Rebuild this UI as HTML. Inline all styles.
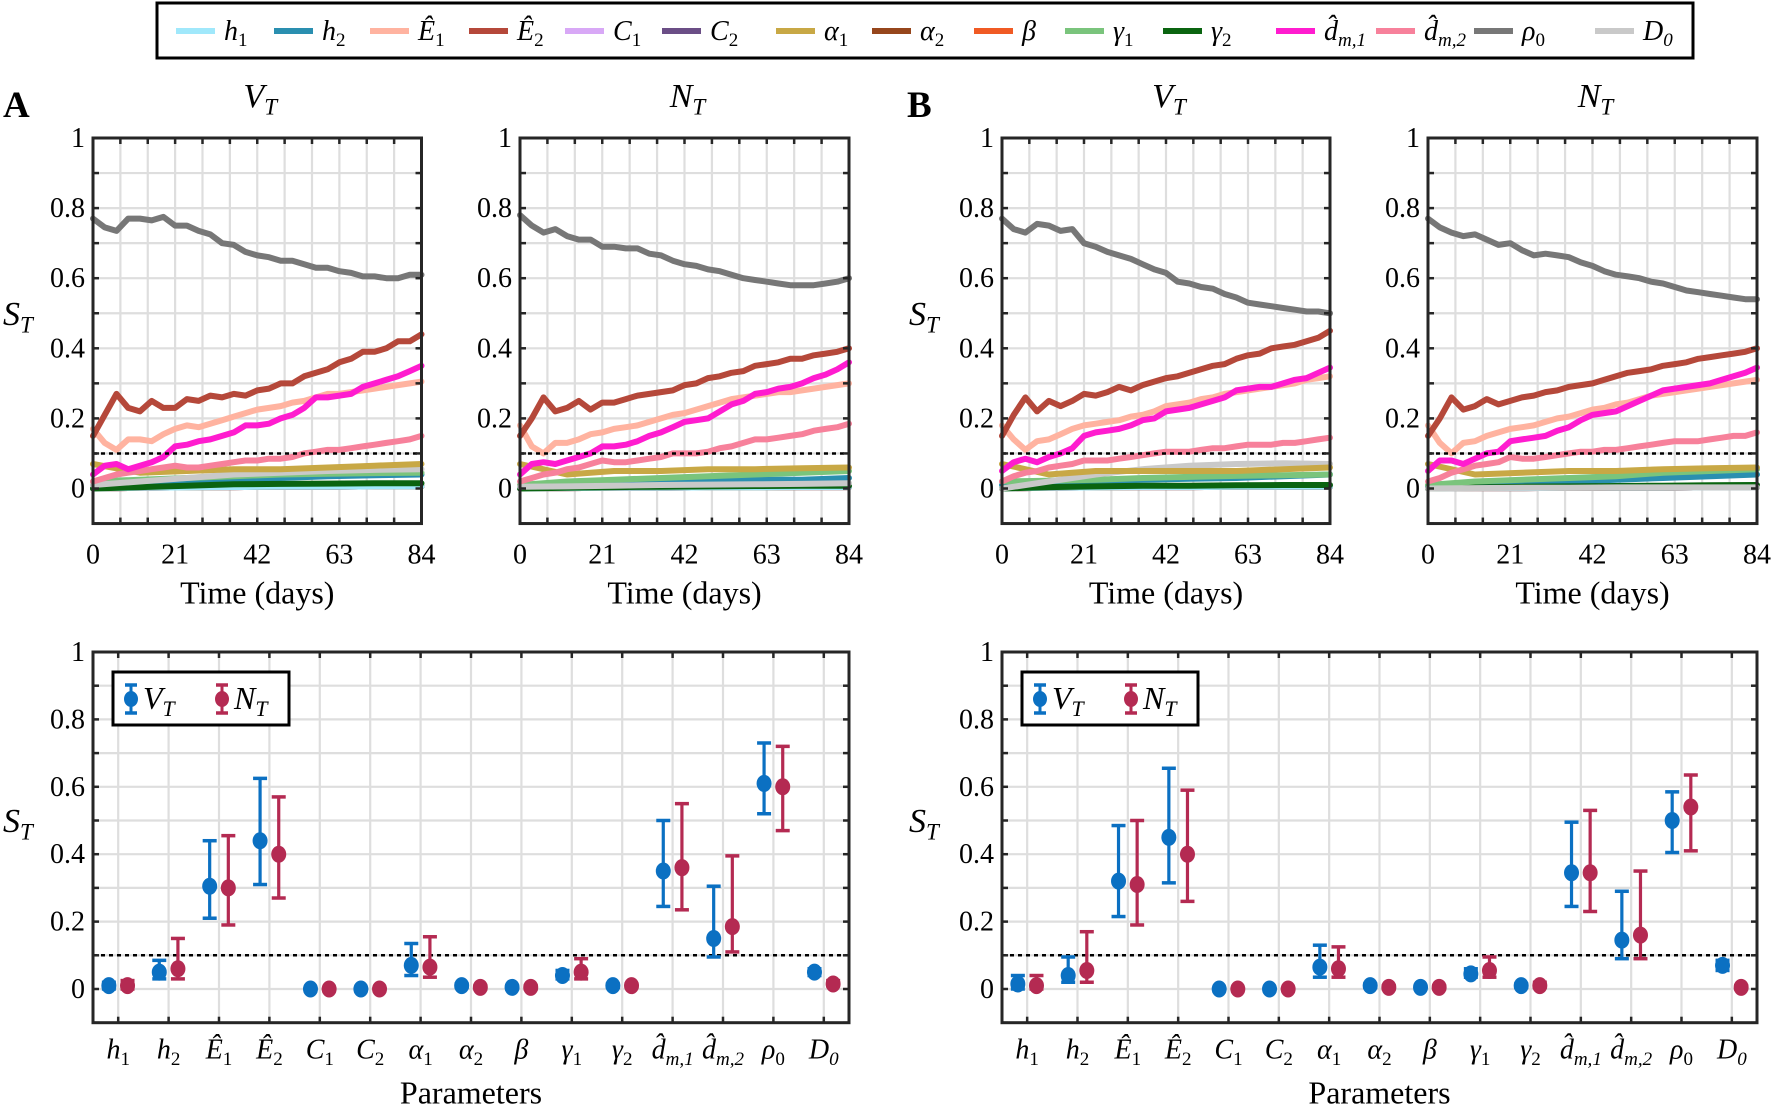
<!DOCTYPE html>
<html><head><meta charset="utf-8"><style>
html,body{margin:0;padding:0;background:#fff;}
svg{display:block;font-family:"Liberation Serif","DejaVu Serif",serif;}
svg text{font-family:"Liberation Serif","DejaVu Serif",serif;}
</style></head><body>
<svg id="fig" width="1771" height="1116" viewBox="0 0 1771 1116" xmlns="http://www.w3.org/2000/svg" font-family="Liberation Serif, DejaVu Serif, serif"></svg>
<script>
// ---------- data ----------
const days = [0,3,6,9,12,15,18,21,24,27,30,33,36,39,42,45,48,51,54,57,60,63,66,69,72,75,78,81,84];
const coarseDays = [0,12,24,36,48,60,72,84];
const xTicks = [0,21,42,63,84];
const yTicks = [0,0.2,0.4,0.6,0.8,1];
const yTickLabels = ["0","0.2","0.4","0.6","0.8","1"];

// Panel A, V_T
const aV_rho0 = [0.77,0.745,0.735,0.77,0.77,0.765,0.775,0.75,0.75,0.735,0.725,0.70,0.695,0.675,0.665,0.66,0.65,0.65,0.64,0.63,0.63,0.62,0.615,0.605,0.605,0.60,0.60,0.61,0.61];
const aV_E2 = [0.15,0.21,0.27,0.23,0.22,0.25,0.23,0.23,0.255,0.25,0.265,0.26,0.27,0.265,0.28,0.285,0.30,0.30,0.32,0.33,0.34,0.36,0.37,0.39,0.39,0.40,0.42,0.42,0.44];
const aV_E1 = [0.17,0.13,0.11,0.14,0.14,0.135,0.155,0.17,0.18,0.175,0.185,0.195,0.205,0.215,0.225,0.23,0.235,0.245,0.25,0.26,0.27,0.27,0.275,0.28,0.285,0.29,0.295,0.30,0.305];
const aV_dm1 = [0.04,0.065,0.07,0.055,0.065,0.075,0.09,0.12,0.125,0.135,0.14,0.15,0.16,0.18,0.18,0.185,0.20,0.21,0.23,0.26,0.26,0.265,0.27,0.29,0.30,0.31,0.32,0.335,0.35];
const aV_dm2 = [0.02,0.03,0.04,0.045,0.05,0.055,0.06,0.065,0.06,0.06,0.065,0.07,0.075,0.08,0.08,0.085,0.085,0.09,0.10,0.105,0.11,0.11,0.115,0.12,0.125,0.13,0.135,0.14,0.15];
const aV_a1 = [0.07,0.045,0.05,0.055,0.055,0.06,0.065,0.07];
const aV_g1 = [0.02,0.025,0.03,0.035,0.04,0.042,0.044,0.045];
const aV_D0 = [0.01,0.02,0.03,0.04,0.045,0.05,0.053,0.055];
const aV_g2 = [0.0,0.004,0.008,0.012,0.013,0.014,0.015,0.015];
const aV_h2 = [0.01,0.015,0.02,0.025,0.03,0.035,0.038,0.04];
const aV_small = [0.0,0.002,0.003,0.004,0.005,0.005,0.006,0.006];

// Panel A, N_T
const aN_rho0 = [0.78,0.75,0.73,0.74,0.72,0.71,0.71,0.69,0.69,0.685,0.685,0.67,0.665,0.65,0.64,0.635,0.625,0.62,0.61,0.60,0.595,0.59,0.585,0.58,0.58,0.58,0.585,0.59,0.60];
const aN_E2 = [0.15,0.20,0.26,0.22,0.23,0.25,0.225,0.245,0.245,0.255,0.265,0.27,0.275,0.28,0.295,0.30,0.315,0.32,0.33,0.335,0.35,0.355,0.36,0.37,0.37,0.38,0.385,0.39,0.40];
const aN_E1 = [0.18,0.12,0.10,0.13,0.13,0.14,0.155,0.16,0.17,0.175,0.18,0.19,0.20,0.21,0.215,0.225,0.235,0.245,0.255,0.26,0.265,0.27,0.275,0.275,0.28,0.285,0.29,0.295,0.30];
const aN_dm1 = [0.04,0.07,0.075,0.07,0.08,0.09,0.10,0.12,0.12,0.125,0.135,0.15,0.16,0.175,0.19,0.195,0.20,0.22,0.24,0.25,0.27,0.275,0.285,0.29,0.30,0.315,0.325,0.34,0.36];
const aN_dm2 = [0.02,0.03,0.04,0.045,0.055,0.06,0.07,0.08,0.075,0.075,0.08,0.085,0.09,0.10,0.10,0.10,0.105,0.115,0.12,0.13,0.14,0.14,0.145,0.15,0.155,0.165,0.17,0.175,0.185];
const aN_a1 = [0.07,0.04,0.05,0.05,0.055,0.055,0.058,0.06];
const aN_g1 = [0.01,0.02,0.025,0.03,0.035,0.04,0.045,0.05];
const aN_D0 = [0.005,0.006,0.008,0.01,0.011,0.012,0.013,0.015];
const aN_g2 = [0.0,0.002,0.004,0.005,0.006,0.007,0.008,0.008];
const aN_h2 = [0.005,0.01,0.015,0.02,0.02,0.025,0.025,0.03];
const aN_small = [0.0,0.001,0.002,0.002,0.003,0.003,0.004,0.004];

// Panel B, V_T
const bV_rho0 = [0.77,0.74,0.73,0.755,0.75,0.735,0.74,0.70,0.69,0.675,0.665,0.655,0.64,0.625,0.615,0.59,0.585,0.575,0.57,0.555,0.545,0.53,0.525,0.52,0.515,0.51,0.505,0.505,0.50];
const bV_E2 = [0.15,0.21,0.26,0.22,0.25,0.235,0.25,0.27,0.265,0.275,0.29,0.28,0.295,0.305,0.315,0.32,0.33,0.34,0.35,0.355,0.37,0.38,0.385,0.40,0.405,0.41,0.42,0.43,0.45];
const bV_E1 = [0.18,0.14,0.11,0.135,0.14,0.155,0.17,0.18,0.185,0.19,0.195,0.205,0.21,0.22,0.235,0.24,0.245,0.255,0.26,0.27,0.275,0.28,0.285,0.29,0.295,0.30,0.31,0.315,0.32];
const bV_dm1 = [0.05,0.075,0.085,0.075,0.09,0.10,0.115,0.15,0.16,0.165,0.17,0.18,0.195,0.20,0.22,0.225,0.23,0.24,0.25,0.26,0.28,0.285,0.29,0.29,0.30,0.31,0.315,0.33,0.345];
const bV_dm2 = [0.02,0.035,0.045,0.05,0.06,0.065,0.07,0.08,0.08,0.08,0.085,0.09,0.095,0.10,0.105,0.105,0.105,0.11,0.115,0.115,0.12,0.125,0.125,0.125,0.13,0.13,0.135,0.14,0.145];
const bV_a1 = [0.07,0.04,0.05,0.05,0.05,0.05,0.055,0.06];
const bV_g1 = [0.02,0.022,0.025,0.03,0.033,0.036,0.038,0.04];
const bV_D0 = [0.0,0.02,0.04,0.055,0.065,0.07,0.072,0.07];
const bV_g2 = [0.0,0.004,0.006,0.008,0.008,0.009,0.01,0.01];
const bV_h2 = [0.01,0.015,0.02,0.025,0.028,0.03,0.035,0.04];
const bV_small = [0.0,0.002,0.003,0.004,0.004,0.005,0.005,0.005];

// Panel B, N_T
const bN_rho0 = [0.77,0.745,0.73,0.72,0.725,0.71,0.695,0.70,0.68,0.665,0.67,0.665,0.66,0.645,0.635,0.62,0.61,0.605,0.60,0.59,0.585,0.575,0.565,0.56,0.555,0.55,0.545,0.54,0.54];
const bN_E2 = [0.15,0.20,0.26,0.225,0.235,0.255,0.24,0.25,0.26,0.265,0.275,0.28,0.29,0.295,0.30,0.31,0.32,0.33,0.335,0.34,0.35,0.355,0.36,0.37,0.375,0.38,0.385,0.39,0.40];
const bN_E1 = [0.18,0.13,0.10,0.13,0.135,0.15,0.16,0.17,0.175,0.18,0.19,0.20,0.205,0.215,0.225,0.23,0.24,0.245,0.255,0.265,0.27,0.275,0.28,0.285,0.29,0.295,0.30,0.305,0.31];
const bN_dm1 = [0.05,0.08,0.08,0.07,0.085,0.10,0.105,0.135,0.14,0.145,0.15,0.165,0.175,0.195,0.21,0.215,0.22,0.235,0.25,0.265,0.28,0.285,0.29,0.295,0.30,0.31,0.32,0.33,0.345];
const bN_dm2 = [0.02,0.03,0.045,0.055,0.065,0.07,0.075,0.09,0.085,0.085,0.09,0.095,0.10,0.105,0.105,0.11,0.11,0.115,0.12,0.125,0.13,0.135,0.135,0.135,0.14,0.145,0.15,0.15,0.16];
const bN_a1 = [0.07,0.04,0.045,0.05,0.05,0.055,0.058,0.06];
const bN_g1 = [0.01,0.02,0.025,0.03,0.035,0.045,0.05,0.055];
const bN_D0 = [0.0,0.001,0.002,0.002,0.003,0.003,0.003,0.003];
const bN_g2 = [0.0,0.003,0.005,0.006,0.007,0.008,0.009,0.01];
const bN_h2 = [0.005,0.01,0.015,0.02,0.025,0.03,0.035,0.04];
const bN_small = [0.0,0.001,0.001,0.002,0.002,0.002,0.003,0.003];

// Error bar data
const paramLabels = ["h1","h2","E1","E2","C1","C2","a1","a2","beta","g1","g2","dm1","dm2","rho0","D0"];
const aV_mean = [0.01,0.05,0.305,0.44,0,0,0.07,0.01,0.005,0.04,0.01,0.35,0.15,0.61,0.05];
const aV_lo   = [0.0,0.03,0.21,0.31,0,0,0.04,0.005,0.0,0.03,0.005,0.245,0.095,0.52,0.04];
const aV_hi   = [0.02,0.085,0.44,0.625,0,0,0.135,0.015,0.01,0.055,0.015,0.50,0.305,0.73,0.06];
const aN_mean = [0.01,0.06,0.30,0.40,0,0,0.065,0.005,0.005,0.05,0.01,0.36,0.185,0.60,0.015];
const aN_lo   = [0.0,0.03,0.19,0.27,0,0,0.035,0.0,0.0,0.03,0.005,0.235,0.11,0.47,0.01];
const aN_hi   = [0.025,0.15,0.455,0.57,0,0,0.155,0.01,0.01,0.09,0.015,0.55,0.395,0.72,0.025];
const bV_mean = [0.015,0.04,0.32,0.45,0,0,0.065,0.01,0.005,0.045,0.01,0.345,0.145,0.50,0.07];
const bV_lo   = [0.0,0.02,0.215,0.315,0,0,0.035,0.005,0.0,0.035,0.005,0.245,0.09,0.405,0.055];
const bV_hi   = [0.04,0.095,0.485,0.655,0,0,0.13,0.015,0.01,0.06,0.015,0.495,0.29,0.585,0.085];
const bN_mean = [0.01,0.055,0.31,0.40,0,0,0.06,0.005,0.005,0.055,0.01,0.345,0.16,0.54,0.005];
const bN_lo   = [0.0,0.02,0.19,0.26,0,0,0.035,0.0,0.0,0.035,0.005,0.23,0.09,0.41,0.0];
const bN_hi   = [0.04,0.17,0.50,0.59,0,0,0.125,0.01,0.01,0.095,0.02,0.53,0.35,0.635,0.01];

// ---------- helpers ----------
const NS = "http://www.w3.org/2000/svg";
const svg = document.getElementById("fig");
const FF = "Liberation Serif, DejaVu Serif, serif";
function mk(tag, attrs, parent){
  const e = document.createElementNS(NS, tag);
  for (const k in attrs) e.setAttribute(k, attrs[k]);
  if (tag === "text") e.setAttribute("font-family", FF);
  (parent||svg).appendChild(e);
  return e;
}
const COL = {h1:"#a0e8fb",h2:"#2a8fb0",E1:"#ffb3a0",E2:"#b5483a",C1:"#d8a8f6",C2:"#6b4e86",a1:"#c8a845",a2:"#96461c",beta:"#f05a24",g1:"#7ac47c",g2:"#0a6410",dm1:"#ff1ccf",dm2:"#f7819b",rho0:"#777777",D0:"#c9c9c9"};
const VCOL = "#0b70c2", NCOL = "#b42a52", AX = "#262626", GRID = "#dedede";

function mathText(parent, x, y, base, sub, size, opts){
  opts = opts || {};
  const t = mk("text", {x:x, y:y, "font-size":size, "text-anchor":opts.anchor||"middle", fill:"#000"}, parent);
  const b = mk("tspan", {"font-style": opts.uprightBase ? "normal" : "italic"}, t);
  b.textContent = base;
  if (sub){
    const s = mk("tspan", {"font-size":size*0.68, dy:size*0.22, "font-style": opts.italicSub ? "italic" : "normal"}, t);
    s.textContent = sub;
  }
  return t;
}

// ---------- time series panel ----------
function timePanel(name, x0, x1, y0px, y1px, title, seriesList){
  const g = mk("g", {});
  
  
  const ymin=-0.1, ymax=1;
  const yPx = v => y0px + v*(y1px - y0px);
  const xPx = d => x0 + d/84*(x1-x0);
  const top = yPx(ymax), bot = yPx(ymin);
  for (let d=7; d<84; d+=7) mk("line",{x1:xPx(d),x2:xPx(d),y1:top,y2:bot,stroke:GRID,"stroke-width":2.2},g);
  for (let k=0; k<=10; k++){ const v=k/10; mk("line",{x1:x0,x2:x1,y1:yPx(v),y2:yPx(v),stroke:GRID,"stroke-width":2.2},g); }
  seriesList.forEach(s=>{
    const xs = s.x;
    let dstr = "";
    s.y.forEach((v,i)=>{ dstr += (i?"L":"M") + xPx(xs[i]).toFixed(1) + "," + yPx(v).toFixed(1); });
    const p = mk("path",{d:dstr,fill:"none",stroke:COL[s.key],"stroke-width":6,"stroke-linejoin":"round","stroke-linecap":"round"},g);
    
    
  });
  const th = mk("line",{x1:x0,x2:x1,y1:yPx(0.1),y2:yPx(0.1),stroke:"#000","stroke-width":2.5,"stroke-dasharray":"4,4"},g);
  
  
  for (let d=0; d<=84; d+=7){ mk("line",{x1:xPx(d),x2:xPx(d),y1:top,y2:top+6,stroke:AX,"stroke-width":2.5},g); mk("line",{x1:xPx(d),x2:xPx(d),y1:bot,y2:bot-6,stroke:AX,"stroke-width":2.5},g); }
  for (let k=-1; k<=10; k++){ const v=k/10; mk("line",{x1:x0,x2:x0+6,y1:yPx(v),y2:yPx(v),stroke:AX,"stroke-width":2.5},g); mk("line",{x1:x1,x2:x1-6,y1:yPx(v),y2:yPx(v),stroke:AX,"stroke-width":2.5},g); }
  mk("rect",{x:x0,y:top,width:x1-x0,height:bot-top,fill:"none",stroke:AX,"stroke-width":3},g);
  xTicks.forEach(d=>{ const t=mk("text",{x:xPx(d),y:bot+40,"font-size":28,"text-anchor":"middle"},g); t.textContent=d; });
  yTicks.forEach((v,i)=>{ const t=mk("text",{x:x0-8,y:yPx(v)+9,"font-size":28,"text-anchor":"end"},g); t.textContent=yTickLabels[i]; });
  const xl = mk("text",{x:(x0+x1)/2,y:bot+80,"font-size":32,"text-anchor":"middle"},g);
  xl.textContent="Time (days)";
  
  
  const tt = mathText(g,(x0+x1)/2+3,top-31,title[0],title[1],34,{italicSub:true});
  
  
  return g;
}
function seriesFor(p){
  return [
    {key:"C1",x:coarseDays,y:p.small},{key:"C2",x:coarseDays,y:p.small},{key:"beta",x:coarseDays,y:p.small},
    {key:"a2",x:coarseDays,y:p.small},{key:"h1",x:coarseDays,y:p.small},{key:"h2",x:coarseDays,y:p.h2},
    {key:"g2",x:coarseDays,y:p.g2},{key:"g1",x:coarseDays,y:p.g1},{key:"D0",x:coarseDays,y:p.D0},
    {key:"a1",x:coarseDays,y:p.a1},{key:"dm2",x:days,y:p.dm2},{key:"E1",x:days,y:p.E1},
    {key:"dm1",x:days,y:p.dm1},{key:"E2",x:days,y:p.E2},{key:"rho0",x:days,y:p.rho0}
  ];
}
const Y0 = 488.5, Y1 = 138;
timePanel("panel-a-vt",93,421.5,Y0,Y1,["V","T"],seriesFor({small:aV_small,h2:aV_h2,g2:aV_g2,g1:aV_g1,D0:aV_D0,a1:aV_a1,dm2:aV_dm2,E1:aV_E1,dm1:aV_dm1,E2:aV_E2,rho0:aV_rho0}));
timePanel("panel-a-nt",520,849,Y0,Y1,["N","T"],seriesFor({small:aN_small,h2:aN_h2,g2:aN_g2,g1:aN_g1,D0:aN_D0,a1:aN_a1,dm2:aN_dm2,E1:aN_E1,dm1:aN_dm1,E2:aN_E2,rho0:aN_rho0}));
timePanel("panel-b-vt",1002,1330,Y0,Y1,["V","T"],seriesFor({small:bV_small,h2:bV_h2,g2:bV_g2,g1:bV_g1,D0:bV_D0,a1:bV_a1,dm2:bV_dm2,E1:bV_E1,dm1:bV_dm1,E2:bV_E2,rho0:bV_rho0}));
timePanel("panel-b-nt",1428,1757,Y0,Y1,["N","T"],seriesFor({small:bN_small,h2:bN_h2,g2:bN_g2,g1:bN_g1,D0:bN_D0,a1:bN_a1,dm2:bN_dm2,E1:bN_E1,dm1:bN_dm1,E2:bN_E2,rho0:bN_rho0}));

[[3,325],[909,325],[3,832],[909,832]].forEach((p,i)=>{
  const t = mathText(svg,p[0],p[1],"S","T",34,{anchor:"start",italicSub:true});
  
  
});
[["A",3,117],["B",907,117]].forEach(l=>{
  const t = mk("text",{x:l[1],y:l[2],"font-size":37,"font-weight":"bold"});
  t.textContent=l[0];
  
  
});

const LBL = {
  h1:["h","1",false],h2:["h","2",false],E1:["Ê","1",false],E2:["Ê","2",false],C1:["C","1",false],C2:["C","2",false],
  a1:["α","1",false],a2:["α","2",false],beta:["β","",false],g1:["γ","1",false],g2:["γ","2",false],
  dm1:["d̂","m,1",true],dm2:["d̂","m,2",true],rho0:["ρ","0",false],D0:["D","0",true]
};

function errPanel(name, x0, x1, y0px, y1px, V, N){
  const g = mk("g",{});
  
  
  const yPx = v => y0px + v*(y1px-y0px);
  const xPx = i => x0 + (i+0.5)/15*(x1-x0);
  const top=yPx(1), bot=yPx(-0.1);
  for (let i=0;i<15;i++) mk("line",{x1:xPx(i),x2:xPx(i),y1:top,y2:bot,stroke:GRID,"stroke-width":2.2},g);
  for (let k=0;k<=10;k++) mk("line",{x1:x0,x2:x1,y1:yPx(k/10),y2:yPx(k/10),stroke:GRID,"stroke-width":2.2},g);
  const th = mk("line",{x1:x0,x2:x1,y1:yPx(0.1),y2:yPx(0.1),stroke:"#000","stroke-width":2.5,"stroke-dasharray":"4,4"},g);
  
  
  const off = 0.185*(x1-x0)/15;
  [[V,VCOL,-off,"vt"],[N,NCOL,off,"nt"]].forEach(([S,c,o,tag])=>{
    S.mean.forEach((m,i)=>{
      const cx = xPx(i)+o;
      const eg = mk("g",{},g);
      
      
      if (S.hi[i]>S.lo[i]){
        mk("line",{x1:cx,x2:cx,y1:yPx(S.lo[i]),y2:yPx(S.hi[i]),stroke:c,"stroke-width":3.2},eg);
        mk("line",{x1:cx-7,x2:cx+7,y1:yPx(S.lo[i]),y2:yPx(S.lo[i]),stroke:c,"stroke-width":3.5},eg);
        mk("line",{x1:cx-7,x2:cx+7,y1:yPx(S.hi[i]),y2:yPx(S.hi[i]),stroke:c,"stroke-width":3.5},eg);
      }
      mk("ellipse",{cx:cx,cy:yPx(m),rx:7.5,ry:8.5,fill:c},eg);
    });
  });
  for (let i=0;i<15;i++){ mk("line",{x1:xPx(i),x2:xPx(i),y1:top,y2:top+6,stroke:AX,"stroke-width":2.5},g); mk("line",{x1:xPx(i),x2:xPx(i),y1:bot,y2:bot-6,stroke:AX,"stroke-width":2.5},g); }
  for (let k=-1;k<=10;k++){ mk("line",{x1:x0,x2:x0+6,y1:yPx(k/10),y2:yPx(k/10),stroke:AX,"stroke-width":2.5},g); mk("line",{x1:x1,x2:x1-6,y1:yPx(k/10),y2:yPx(k/10),stroke:AX,"stroke-width":2.5},g); }
  mk("rect",{x:x0,y:top,width:x1-x0,height:bot-top,fill:"none",stroke:AX,"stroke-width":3},g);
  yTicks.forEach((v,i)=>{ const t=mk("text",{x:x0-8,y:yPx(v)+9,"font-size":28,"text-anchor":"end"},g); t.textContent=yTickLabels[i]; });
  paramLabels.forEach((p,i)=>{
    const L = LBL[p];
    const t = mathText(g,xPx(i),bot+36,L[0],L[1],28,{italicSub:L[2]});
    
    
  });
  const xl = mk("text",{x:(x0+x1)/2,y:bot+81,"font-size":32,"text-anchor":"middle"},g);
  xl.textContent="Parameters";
  
  
  const lg = mk("g",{},g);
  
  
  const lx = x0+20, ly = top+20;
  mk("rect",{x:lx,y:ly,width:176,height:53,fill:"#fff",stroke:"#000","stroke-width":3},lg);
  [[VCOL,lx+18,"V","vt"],[NCOL,lx+109,"N","nt"]].forEach(([c,cx,b,tag])=>{
    const e = mk("g",{},lg);
    
    
    mk("line",{x1:cx,x2:cx,y1:ly+13,y2:ly+41,stroke:c,"stroke-width":3},e);
    mk("line",{x1:cx-6,x2:cx+6,y1:ly+13,y2:ly+13,stroke:c,"stroke-width":3.5},e);
    mk("line",{x1:cx-6,x2:cx+6,y1:ly+41,y2:ly+41,stroke:c,"stroke-width":3.5},e);
    mk("ellipse",{cx:cx,cy:ly+27,rx:7,ry:8,fill:c},e);
    mathText(e,cx+12,ly+37,b,"T",32,{anchor:"start",italicSub:true});
  });
}
const EY0 = 989, EY1 = 652;
errPanel("panel-a-parameters",93,849,EY0,EY1,{mean:aV_mean,lo:aV_lo,hi:aV_hi},{mean:aN_mean,lo:aN_lo,hi:aN_hi});
errPanel("panel-b-parameters",1002,1757,EY0,EY1,{mean:bV_mean,lo:bV_lo,hi:bV_hi},{mean:bN_mean,lo:bN_lo,hi:bN_hi});

const legendKeys = ["h1","h2","E1","E2","C1","C2","a1","a2","beta","g1","g2","dm1","dm2","rho0","D0"];
const legendX = [176,274,370,469,565,662,776,872,974,1065,1163,1276,1376,1474,1595];
const tl = mk("g",{});


mk("rect",{x:157,y:3,width:1536,height:55,fill:"#fff",stroke:"#000","stroke-width":3},tl);
legendKeys.forEach((k,i)=>{
  const e = mk("g",{},tl);
  
  
  mk("line",{x1:legendX[i],x2:legendX[i]+39,y1:31,y2:31,stroke:COL[k],"stroke-width":6},e);
  const L = LBL[k];
  mathText(e,legendX[i]+48,40,L[0],L[1],28,{anchor:"start",italicSub:L[2]});
});
</script>
</body></html>
